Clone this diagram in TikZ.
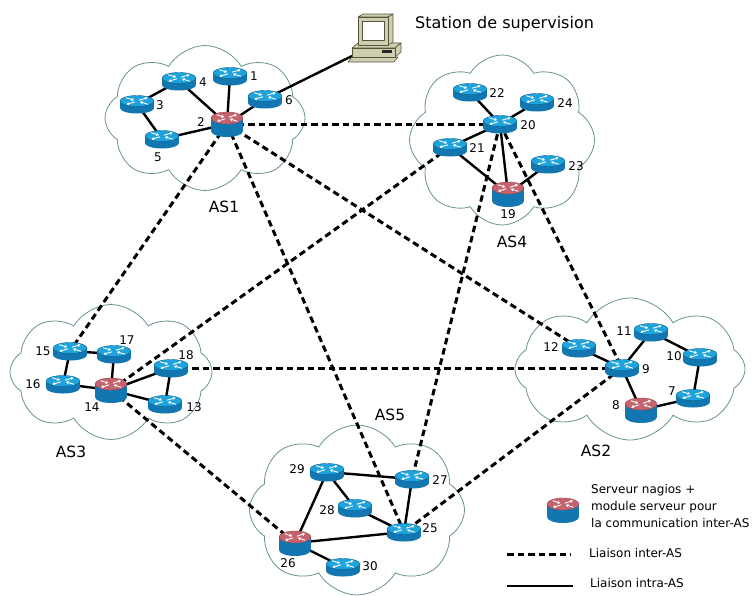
\documentclass[tikz,border=0pt]{standalone}
\usepackage{fontspec}
\setmainfont{DejaVu Sans}
\usetikzlibrary{shapes.symbols,arrows.meta}

\definecolor{cloudline}{HTML}{6A9295}
\definecolor{rtop}{HTML}{1FA3DD}
\definecolor{rbody}{HTML}{1276B0}
\definecolor{rrim}{HTML}{0E5F8E}
\definecolor{srvtop}{HTML}{C5636D}
\definecolor{srvrim}{HTML}{9A4650}
\definecolor{pcfill}{HTML}{CFCFB0}
\definecolor{pcline}{HTML}{55553F}

\tikzset{
  asnet/.style={cloud, cloud puffs=8, cloud puff arc=120, draw=cloudline, fill=white, line width=0.8pt, inner sep=0pt},
  intra/.style={line width=2.4pt, black},
  inter/.style={line width=3pt, black, dash pattern=on 6.5pt off 4pt},
  num/.style={font=\fontsize{12}{14}\selectfont, inner sep=0pt},
  aslabel/.style={font=\fontsize{15.5}{18}\selectfont, inner sep=0pt},
  legtext/.style={font=\fontsize{12}{15}\selectfont, inner sep=0pt, anchor=west},
  % white arrows on the top face of a router
  xarrows/.pic={
    \begin{scope}[white, line width=0.9pt, -{Triangle[length=2.4pt,width=3pt]}]
      \draw (2,-0.8) -- (10.5,-3.3);
      \draw (-2,0.8) -- (-10.5,3.3);
      \draw (-11,-3.3) -- (-3,-0.9);
      \draw (11,3.3) -- (3,0.9);
    \end{scope}
  },
  router/.pic={
    \fill[rbody] (-17,-3) rectangle (17,4);
    \fill[rbody] (0,4) ellipse [x radius=17, y radius=5.5];
    \fill[rtop, draw=rrim, line width=0.4pt] (0,-3) ellipse [x radius=17, y radius=5.5];
    \pic at (0,-3) {xarrows};
  },
  server/.pic={
    \fill[rbody] (-16,-6) rectangle (16,7);
    \fill[rbody] (0,7) ellipse [x radius=16, y radius=6];
    \fill[srvtop, draw=srvrim, line width=0.4pt] (0,-6) ellipse [x radius=16, y radius=6];
    \pic[xscale=0.94] at (0,-6) {xarrows};
  }
}

\begin{document}
\begin{tikzpicture}[x=1pt, y=-1pt]
\useasboundingbox (0,0) rectangle (754,595);

% ---------- autonomous systems ----------
\node[asnet, minimum width=200, minimum height=145] (c1) at (205,118) {};
\node[asnet, minimum width=185, minimum height=170] (c4) at (502,140) {};
\node[asnet, minimum width=202, minimum height=135] (c3) at (111,372) {};
\node[asnet, minimum width=230, minimum height=142] (c2) at (630,369) {};
\node[asnet, minimum width=215, minimum height=170] (c5) at (357,510) {};

% ---------- router positions ----------
% AS1
\coordinate (r1) at (230,76);
\coordinate (r2) at (227,124);
\coordinate (r3) at (137,104);
\coordinate (r4) at (179,81);
\coordinate (r5) at (162,139);
\coordinate (r6) at (265,99);
% AS4
\coordinate (r19) at (508,194);
\coordinate (r20) at (500,124);
\coordinate (r21) at (450,147);
\coordinate (r22) at (470,92);
\coordinate (r23) at (548,164);
\coordinate (r24) at (537,102);
% AS3
\coordinate (r13) at (165,404);
\coordinate (r14) at (111,390);
\coordinate (r15) at (70,351);
\coordinate (r16) at (63,384);
\coordinate (r17) at (114,354);
\coordinate (r18) at (171,368);
% AS2
\coordinate (r7) at (693,398);
\coordinate (r8) at (641,410);
\coordinate (r9) at (622,368);
\coordinate (r10) at (700,357);
\coordinate (r11) at (651,332);
\coordinate (r12) at (579,348);
% AS5
\coordinate (r25) at (404,532);
\coordinate (r26) at (295,543);
\coordinate (r27) at (412,479);
\coordinate (r28) at (355,508);
\coordinate (r29) at (327,472);
\coordinate (r30) at (343,567);
% supervision station
\coordinate (pc) at (352,56);

% ---------- inter-AS links ----------
\draw[inter] (r2) -- (r20);
\draw[inter] (r2) -- (r15);
\draw[inter] (r2) -- (r25);
\draw[inter] (r2) -- (r12);
\draw[inter] (r20) -- (r27);
\draw[inter] (r20) -- (r9);
\draw[inter] (r21) -- (r14);
\draw[inter] (r18) -- (r9);
\draw[inter] (r14) -- (r26);
\draw[inter] (r9) -- (r25);

% ---------- intra-AS links ----------
\draw[intra] (r2) -- (r1);
\draw[intra] (r2) -- (r4) -- (r3) -- (r5) -- (r2);
\draw[intra] (r2) -- (r6) -- (pc);
\draw[intra] (r22) -- (r20) -- (r24);
\draw[intra] (r20) -- (r21) -- (r19) -- (r20);
\draw[intra] (r23) -- (r19);
\draw[intra] (r15) -- (r17) -- (r14) -- (r16) -- (r15);
\draw[intra] (r14) -- (r18) -- (r13) -- (r14);
\draw[intra] (r12) -- (r9) -- (r11) -- (r10) -- (r7) -- (r8) -- (r9);
\draw[intra] (r26) -- (r29) -- (r27) -- (r25) -- (r26) -- (r30);
\draw[intra] (r29) -- (r28) -- (r25);

% ---------- router icons ----------
\foreach \r in {r1,r3,r4,r5,r6,r20,r21,r22,r23,r24,r13,r15,r16,r17,r18,r7,r9,r10,r11,r12,r25,r27,r28,r29,r30}
  \pic at (\r) {router};
\foreach \r in {r2,r19,r14,r8,r26}
  \pic at (\r) {server};

% ---------- supervision station ----------
\begin{scope}[fill=pcfill, draw=pcline, line width=0.6pt, line join=round]
  % keyboard
  \filldraw (352,57) -- (398,57) -- (394,62) -- (348,62) -- cycle;
  % system unit
  \filldraw (352,48) -- (358,43) -- (401,43) -- (395,48) -- cycle;
  \filldraw (395,48) -- (401,43) -- (401,52) -- (395,57) -- cycle;
  \filldraw (352,48) rectangle (395,57);
  \fill[black!85] (382,50) rectangle (392,53);
  % monitor
  \filldraw (358,17) -- (363,14) -- (393,14) -- (388,17) -- cycle;
  \filldraw (388,17) -- (393,14) -- (393,42) -- (388,45) -- cycle;
  \filldraw (358,17) rectangle (388,45);
  \filldraw[fill=white] (362,21) rectangle (384,40);
\end{scope}
\node[legtext, font=\fontsize{16}{19}\selectfont] (st) at (415,24) {Station de supervision};

% ---------- router numbers ----------
\node[num] (l1) at (254,76) {1};
\node[num] (l2) at (201,122) {2};
\node[num] (l3) at (160,105) {3};
\node[num] (l4) at (203,82) {4};
\node[num] (l5) at (158,157) {5};
\node[num] (l6) at (289,100) {6};
\node[num] (l22) at (497,93) {22};
\node[num] (l24) at (565,103) {24};
\node[num] (l20) at (528,125) {20};
\node[num] (l21) at (477,148) {21};
\node[num] (l23) at (576,166) {23};
\node[num] (l19) at (508,214) {19};
\node[num] (l15) at (43,351) {15};
\node[num] (l17) at (127,340) {17};
\node[num] (l16) at (33,384) {16};
\node[num] (l14) at (92,407) {14};
\node[num] (l18) at (186,355) {18};
\node[num] (l13) at (194,407) {13};
\node[num] (l12) at (551,347) {12};
\node[num] (l11) at (624,331) {11};
\node[num] (l10) at (674,356) {10};
\node[num] (l9) at (646,369) {9};
\node[num] (l7) at (672,391) {7};
\node[num] (l8) at (616,405) {8};
\node[num] (l29) at (297,469) {29};
\node[num] (l27) at (440,480) {27};
\node[num] (l28) at (327,510) {28};
\node[num] (l25) at (430,528) {25};
\node[num] (l26) at (288,563) {26};
\node[num] (l30) at (370,566) {30};

% ---------- AS names ----------
\node[aslabel] (as1) at (224,207) {AS1};
\node[aslabel] (as4) at (512,242) {AS4};
\node[aslabel] (as3) at (71,452) {AS3};
\node[aslabel] (as2) at (596,451) {AS2};
\node[aslabel] (as5) at (390,415) {AS5};

% ---------- legend ----------
\coordinate (lgsrv) at (563,510);
\pic at (lgsrv) {server};
\node[legtext] (lg1) at (591,490) {Serveur nagios +};
\node[legtext] (lg2) at (591,507) {module serveur pour};
\node[legtext] (lg3) at (591,523) {la communication inter-AS};
\coordinate (lgda) at (507,554);
\coordinate (lgdb) at (571,554);
\draw[inter] (lgda) -- (lgdb);
\node[legtext] (lg4) at (589,553) {Liaison inter-AS};
\coordinate (lgsa) at (507,586);
\coordinate (lgsb) at (573,586);
\draw[intra] (lgsa) -- (lgsb);
\node[legtext] (lg5) at (590,583) {Liaison intra-AS};
\end{tikzpicture}
\end{document}
